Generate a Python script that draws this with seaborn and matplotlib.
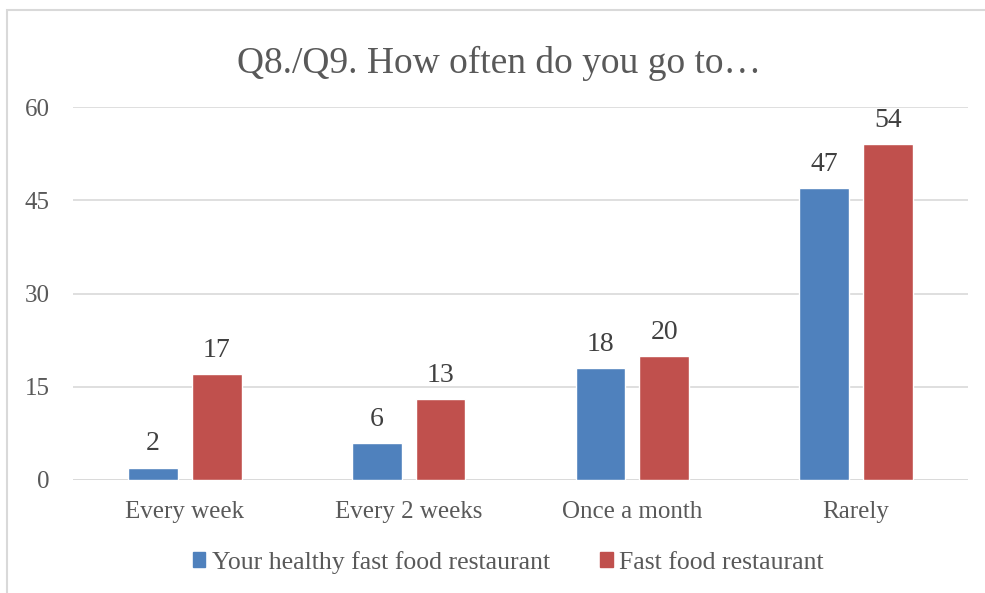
import matplotlib
matplotlib.use("Agg")
import matplotlib.pyplot as plt
import matplotlib.patches as mpatches
import seaborn as sns
import pandas as pd

categories = ["Every week", "Every 2 weeks", "Once a month", "Rarely"]
series_names = ["Your healthy fast food restaurant", "Fast food restaurant"]
healthy = [2, 6, 18, 47]
fast_food = [17, 13, 20, 54]
yticks = [0, 15, 30, 45, 60]
title = "Q8./Q9. How often do you go to…"

colors = ["#4F81BD", "#C0504D"]

df = pd.DataFrame({
    "category": categories * 2,
    "series": [series_names[0]] * 4 + [series_names[1]] * 4,
    "value": healthy + fast_food,
})

sns.set_theme(style="white")
plt.rcParams["font.family"] = ["Liberation Serif", "DejaVu Serif"]

fig = plt.figure(figsize=(9.85, 5.93), dpi=100)
ax = fig.add_axes([73 / 985, 113 / 593, (968 - 73) / 985, 373 / 593])

sns.barplot(data=df, x="category", y="value", hue="series", order=categories,
            hue_order=series_names, palette=colors, width=0.571, gap=0.22,
            ax=ax, legend=False, saturation=1)

ax.set_ylim(0, 60)
ax.set_xlim(-0.5, 3.5)
ax.set_yticks(yticks)
ax.yaxis.grid(True, color="#D9D9D9", linewidth=1.2)
ax.set_axisbelow(True)
for s in ax.spines.values():
    s.set_visible(False)
ax.axhline(0, color="#D9D9D9", linewidth=1.2, zorder=0.5)
ax.set_xlabel("")
ax.set_ylabel("")
ax.tick_params(axis="both", length=0, labelsize=18, colors="#595959")
ax.tick_params(axis="y", pad=17)
ax.tick_params(axis="x", pad=15)

for cont in ax.containers:
    ax.bar_label(cont, fmt="%d", padding=8, fontsize=20, color="#404040")

fig.text(0.507, 1 - 63 / 593, title, ha="center", va="center", fontsize=27,
         color="#595959")

handles = [mpatches.Patch(color=c, label=n) for c, n in zip(colors, series_names)]
fig.legend(handles=handles, loc="center", bbox_to_anchor=(0.516, 0.052), ncol=2,
           frameon=False, fontsize=18.5, labelcolor="#595959", handlelength=0.5,
           handleheight=0.55, handletextpad=0.25, columnspacing=1.95)

border = mpatches.Rectangle((7 / 985, -0.1), 1.2, (593 - 10) / 593 + 0.1,
                            transform=fig.transFigure, fill=False,
                            edgecolor="#D9D9D9", linewidth=1.5)
fig.add_artist(border)

fig.savefig("out.png", dpi=100, facecolor="white")
